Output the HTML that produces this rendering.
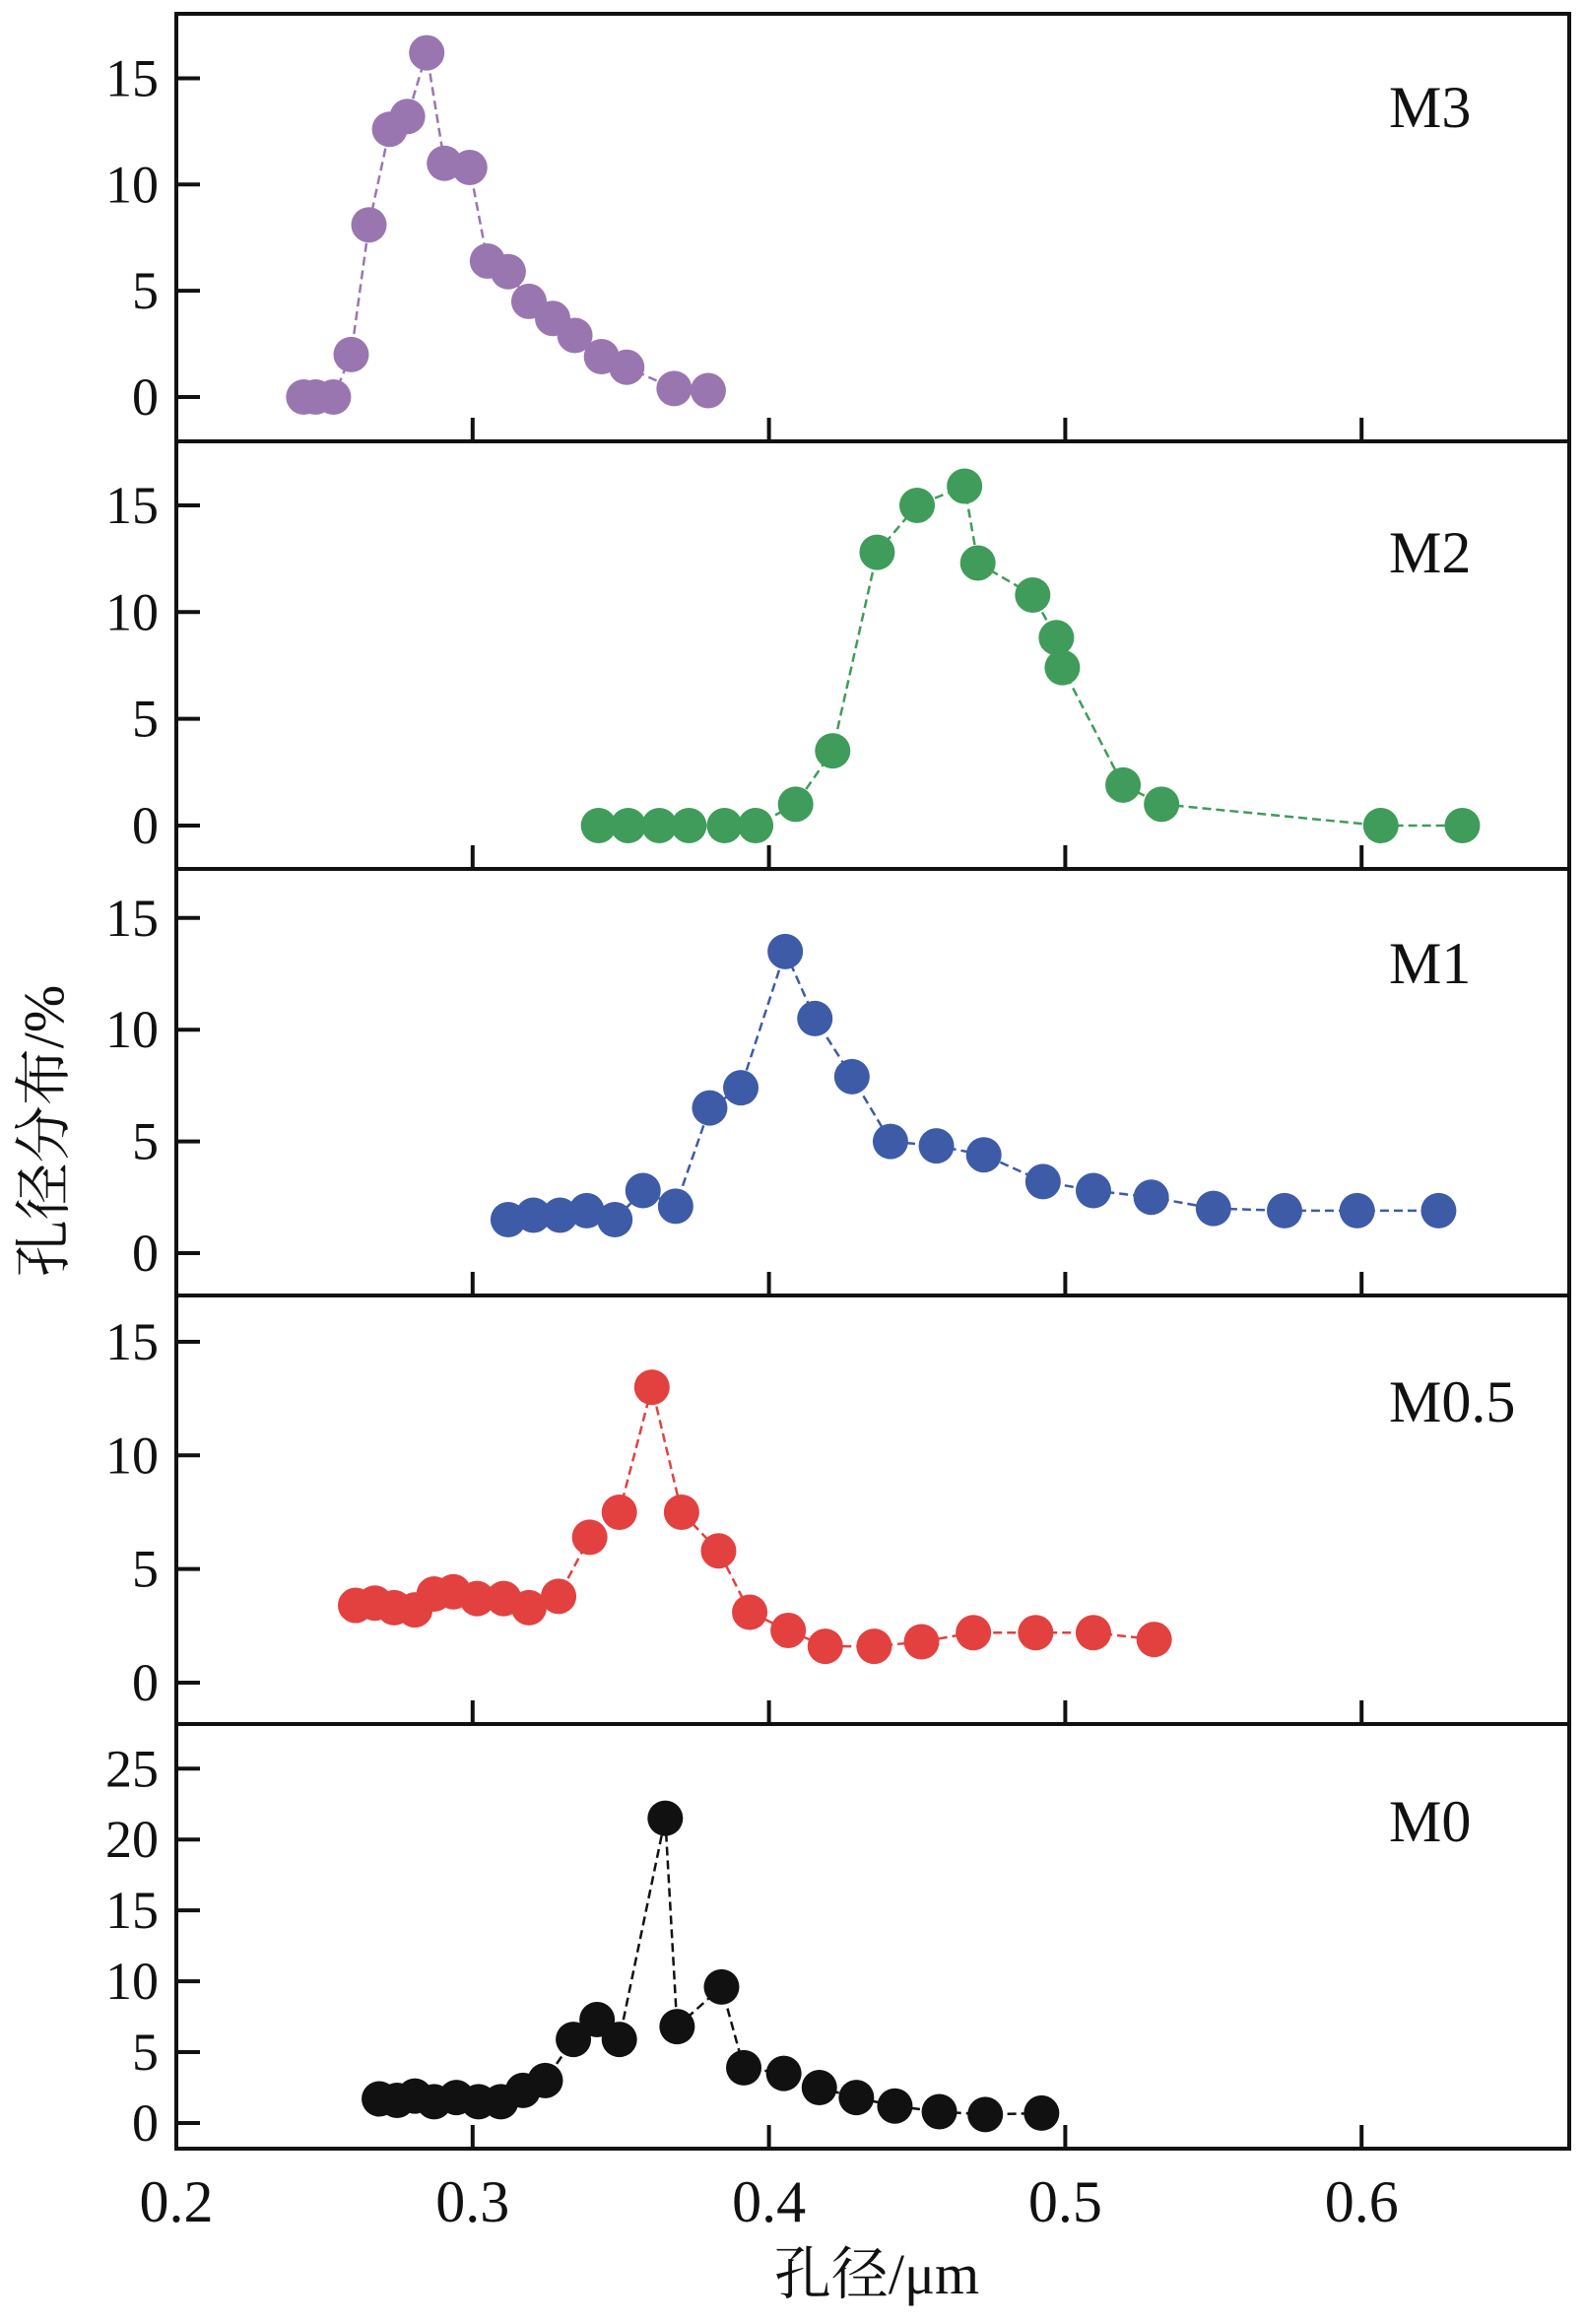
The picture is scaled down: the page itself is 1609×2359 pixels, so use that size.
<!DOCTYPE html>
<html><head><meta charset="utf-8"><style>
html,body{margin:0;padding:0;background:#fff}
svg{display:block}
text{font-family:"Liberation Serif","Noto Serif CJK SC",serif;fill:#111}
</style></head><body>
<svg id="chart" width="1609" height="2359" viewBox="0 0 1609 2359" xmlns="http://www.w3.org/2000/svg"></svg>
<script>
const xTicks=[0.2,0.3,0.4,0.5,0.6];
const xTickLabels=["0.2","0.3","0.4","0.5","0.6"];
const m3X=[0.243,0.247,0.253,0.259,0.265,0.272,0.278,0.2845,0.2905,0.299,0.305,0.312,0.319,0.327,0.3345,0.3435,0.352,0.368,0.3795];
const m3Y=[0,0,0,2.0,8.1,12.6,13.2,16.2,11.0,10.8,6.4,5.9,4.5,3.7,2.9,1.9,1.4,0.4,0.3];
const m2X=[0.3425,0.3525,0.363,0.373,0.385,0.3955,0.409,0.4215,0.4365,0.45,0.466,0.4705,0.489,0.497,0.499,0.5195,0.5325,0.6065,0.634];
const m2Y=[0,0,0,0,0,0,1.0,3.5,12.8,15.0,15.9,12.3,10.8,8.8,7.4,1.9,1.0,0,0];
const m1X=[0.312,0.3205,0.3295,0.3385,0.348,0.3575,0.3685,0.38,0.3905,0.4055,0.4155,0.428,0.441,0.4565,0.4725,0.4925,0.5095,0.529,0.55,0.574,0.5985,0.626];
const m1Y=[1.5,1.7,1.7,1.9,1.5,2.8,2.1,6.5,7.4,13.5,10.5,7.9,5.0,4.8,4.4,3.2,2.8,2.5,2.0,1.9,1.9,1.9];
const m05X=[0.2605,0.267,0.2735,0.2805,0.287,0.2935,0.3015,0.3105,0.319,0.329,0.3395,0.3495,0.3605,0.3705,0.383,0.3935,0.4065,0.419,0.4355,0.4515,0.469,0.49,0.5095,0.53];
const m05Y=[3.4,3.5,3.3,3.2,3.9,4.0,3.7,3.7,3.3,3.8,6.4,7.5,13.0,7.5,5.8,3.1,2.3,1.6,1.6,1.8,2.2,2.2,2.2,1.9];
const m0X=[0.2685,0.2745,0.2805,0.287,0.2945,0.302,0.3095,0.317,0.3245,0.334,0.342,0.3495,0.365,0.369,0.384,0.3915,0.405,0.417,0.4295,0.4425,0.4575,0.473,0.492];
const m0Y=[1.7,1.6,1.9,1.5,1.8,1.5,1.5,2.3,3.0,5.9,7.3,5.9,21.5,6.8,9.6,3.9,3.5,2.5,1.8,1.2,0.8,0.6,0.7];
const yTicks15=[0,5,10,15];
const yTicks25=[0,5,10,15,20,25];

const NS="http://www.w3.org/2000/svg";
const svg=document.getElementById('chart');
const L=179,R=1593;
const xs=v=>L+(v-0.2)*3008;
function mk(tag,attrs,parent){const e=document.createElementNS(NS,tag);for(const k in attrs)e.setAttribute(k,attrs[k]);(parent||svg).appendChild(e);return e;}

const panels=[
 {name:'M3',x:m3X,y:m3Y,color:'#9a76b0',top:14,bot:448,zero:403,ppu:21.57,ticks:yTicks15,lab:129},
 {name:'M2',x:m2X,y:m2Y,color:'#3f9c5a',top:448,bot:882,zero:838,ppu:21.67,ticks:yTicks15,lab:581},
 {name:'M1',x:m1X,y:m1Y,color:'#3e5ba8',top:882,bot:1315,zero:1272,ppu:22.68,ticks:yTicks15,lab:998},
 {name:'M0.5',x:m05X,y:m05Y,color:'#e2413f',top:1315,bot:1750,zero:1708,ppu:23.07,ticks:yTicks15,lab:1443},
 {name:'M0',x:m0X,y:m0Y,color:'#111111',top:1750,bot:2181,zero:2155,ppu:14.39,ticks:yTicks25,lab:1869}
];
panels.forEach(p=>{
  const g=mk('g',{});
  
  
  const ys=v=>p.zero-v*p.ppu;
  p.ticks.forEach(t=>{
    const tk=mk('line',{x1:L,x2:L+24,y1:ys(t),y2:ys(t),stroke:'#111','stroke-width':4},g);
    
    
    const tl=mk('text',{x:L-18,y:ys(t)+18,'text-anchor':'end','font-size':54},g);
    tl.textContent=String(t);
    
    
  });
  xTicks.slice(1).forEach(t=>{
    const tk=mk('line',{x1:xs(t),x2:xs(t),y1:p.bot,y2:p.bot-24,stroke:'#111','stroke-width':4},g);
    
    
  });
  const pts=p.x.map((v,i)=>xs(v)+','+ys(p.y[i])).join(' ');
  const ln=mk('polyline',{points:pts,fill:'none',stroke:p.color,'stroke-width':2.5,'stroke-dasharray':'9,5'},g);
  
  
  p.x.forEach((v,i)=>{
    const c=mk('circle',{cx:xs(v),cy:ys(p.y[i]),r:18,fill:p.color},g);
    
    
  });
  const lb=mk('text',{x:1410,y:p.lab,'font-size':60},g);
  lb.textContent=p.name;
  
  
  const fr=mk('rect',{x:L,y:p.top,width:R-L,height:p.bot-p.top,fill:'none',stroke:'#111','stroke-width':4},g);
  
  
});
xTicks.forEach((t,i)=>{
  const tl=mk('text',{x:xs(t),y:2255,'text-anchor':'middle','font-size':60});
  tl.textContent=xTickLabels[i];
  
  
});
const xt=mk('text',{x:890,y:2328,'text-anchor':'middle','font-size':58});
xt.textContent='孔径/μm';


const yt=mk('text',{x:0,y:0,'text-anchor':'middle','font-size':58,transform:'translate(64,1148) rotate(-90)'});
yt.textContent='孔径分布/%';


</script>
</body></html>
